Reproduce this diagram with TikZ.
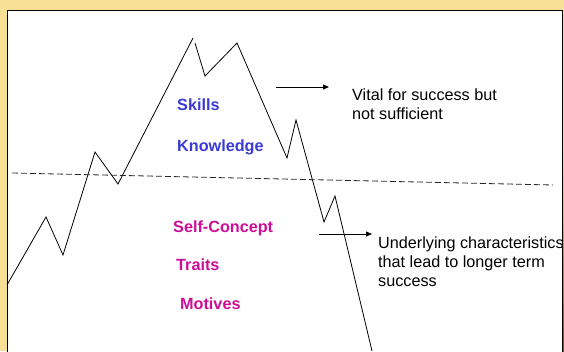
\documentclass[tikz,border=0pt]{standalone}
\usepackage{fontspec}
\setmainfont{Liberation Sans}
\usetikzlibrary{arrows.meta,positioning}
\definecolor{parch}{RGB}{247,224,150}
\definecolor{parchdark}{RGB}{120,86,40}
\definecolor{skillblue}{RGB}{58,58,214}
\definecolor{motivemag}{RGB}{206,14,152}
\begin{document}
\begin{tikzpicture}[x=1pt,y=-1pt,
every node/.style={inner sep=0pt,font=\fontsize{16.2}{19}\selectfont},
visible/.style={anchor=base west,font=\fontsize{16.2}{19}\selectfont\bfseries,text=skillblue},
hidden/.style={anchor=base west,font=\fontsize{16.2}{19}\selectfont\bfseries,text=motivemag},
note/.style={anchor=north west,align=left},
pointer/.style={-{Triangle[length=6pt,width=5pt]},line width=.8pt}]
\useasboundingbox (0,0) rectangle (564,351);
\fill[parch] (0,0) rectangle (564,351);
\shade[top color=parch,bottom color=parchdark] (562,150) rectangle (564,351);
\draw[fill=white,line width=.8pt] (7,10) rectangle (562,360);
\coordinate (M1) at (7,285);
\coordinate (M2) at (46,217);
\coordinate (M3) at (63,255);
\coordinate (M4) at (95,152);
\coordinate (M5) at (118,184);
\coordinate (M6) at (193,38);
\coordinate (M7) at (195,43);
\coordinate (M8) at (205,76);
\coordinate (M9) at (237,43);
\coordinate (M10) at (287,158);
\coordinate (M11) at (296,120);
\coordinate (M12) at (324,222);
\coordinate (M13) at (335,196);
\coordinate (M14) at (372,351);
\coordinate (D1) at (12,173);
\coordinate (D2) at (553,185);
\draw[line width=.8pt,line join=miter] (M1)--(M2)--(M3)--(M4)--(M5)--(M6);
\draw[line width=.8pt,line join=miter] (M7)--(M8)--(M9)--(M10)--(M11)--(M12)--(M13)--(M14);
\draw[black!85,line width=.8pt,dash pattern=on 6pt off 3pt] (D1)--(D2);
\node[visible] (skills) at (177,110) {Skills};
\node[visible] (knowledge) at (177,151) {Knowledge};
\node[hidden] (selfconcept) at (173,232) {Self-Concept};
\node[hidden] (traits) at (176,270) {Traits};
\node[hidden] (motives) at (180,309) {Motives};
\node[note] (vital) at (352,89) {Vital for success but\\not sufficient};
\node[note] (underlying) at (378,237) {Underlying characteristics\\that lead to longer term\\success};
\coordinate (A1) at (276,87);
\coordinate (A2) at (329,87);
\coordinate (B1) at (319,234);
\coordinate (B2) at (372,234);
\draw[pointer] (A1)--(A2);
\draw[pointer] (B1)--(B2);
\end{tikzpicture}
\end{document}
